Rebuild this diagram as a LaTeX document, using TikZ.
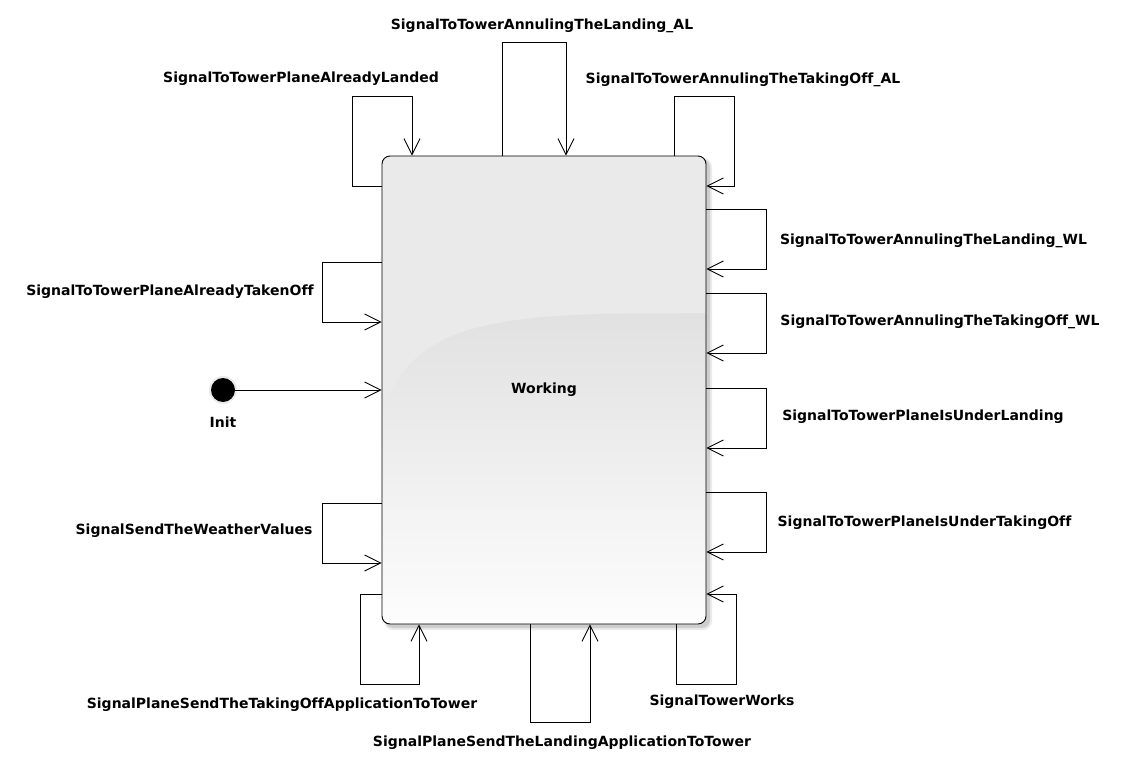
\documentclass[tikz,border=0pt]{standalone}
\usepackage{fontspec}
\setmainfont[Ligatures=NoCommon]{DejaVu Sans}
\usetikzlibrary{arrows.meta,shadows}
\definecolor{boxtop}{HTML}{EAEAEA}
\definecolor{boxmid}{HTML}{E1E1E1}
\definecolor{boxbot}{HTML}{FDFDFD}
\tikzset{
  x=1pt,y=-1pt,
  tr/.style={draw=black,line width=0.9pt,-{Straight Barb[length=16pt,width=16pt,line width=0.9pt]}},
  lbl/.style={font=\bfseries\fontsize{14}{16}\selectfont,inner sep=0pt,text=black,yshift=-1.5pt},
  statebox/.style={draw=black,line width=0.9pt,rounded corners=8pt,minimum width=324pt,minimum height=468pt,inner sep=0pt,font=\bfseries\fontsize{14}{16}\selectfont},
}
\begin{document}
\begin{tikzpicture}
\useasboundingbox (0,0) rectangle (1127,770);
% shadow and fill of the state
\fill[black,opacity=0.12,rounded corners=8pt] (385,159) rectangle (710,628);
\fill[black,opacity=0.08,rounded corners=9pt] (384,158) rectangle (712,630);
\begin{scope}
\clip[rounded corners=8pt] (382,156) rectangle (706,624);
\fill[boxtop] (382,156) rectangle (706,624);
\shade[top color=boxmid,bottom color=boxbot] (382,410) .. controls (410,340) and (460,318) .. (600,314) -- (706,313) -- (706,624) -- (382,624) -- cycle;
\end{scope}
\node[statebox] (w) at (544,390) {Working};
% initial state
\fill[black!20,opacity=0.4] (223,390) circle (14);
\node[circle,fill=black,minimum size=24pt,inner sep=0pt] (init) at (223,390) {};
\node[lbl] (initl) at (223,421) {Init};
\draw[tr] (init) -- (w.west |- init);
% top loops
\draw[tr] (w.west |- 0,186) -- (352,186) |- (412,96) -- (w.north -| 412,0);
\draw[tr] (w.north -| 502,0) -- (502,42) -| (w.north -| 566,0);
\draw[tr] (w.north -| 674,0) -- (674,96) -| (734,186) -- (w.east |- 0,186);
% right loops
\draw[tr] (w.east |- 0,209) -| (766,269) -- (w.east |- 0,269);
\draw[tr] (w.east |- 0,293) -| (766,353) -- (w.east |- 0,353);
\draw[tr] (w.east |- 0,388) -| (766,448) -- (w.east |- 0,448);
\draw[tr] (w.east |- 0,492) -| (766,552) -- (w.east |- 0,552);
% bottom loops
\draw[tr] (w.south -| 676,0) -- (676,684) -| (736,594) -- (w.east |- 0,594);
\draw[tr] (w.south -| 530,0) -- (530,722) -| (w.south -| 590,0);
\draw[tr] (w.west |- 0,594) -- (360,594) |- (419,684) -- (w.south -| 419,0);
% left loops
\draw[tr] (w.west |- 0,503) -- (322,503) |- (w.west |- 0,563);
\draw[tr] (w.west |- 0,262) -- (322,262) |- (w.west |- 0,322);
% labels
\node[lbl] (l1) at (301,77) {SignalToTowerPlaneAlreadyLanded};
\node[lbl] (l2) at (542,24) {SignalToTowerAnnulingTheLanding\_AL};
\node[lbl] (l3) at (743,78) {SignalToTowerAnnulingTheTakingOff\_AL};
\node[lbl] (l4) at (933.5,239) {SignalToTowerAnnulingTheLanding\_WL};
\node[lbl] (l5) at (940,320) {SignalToTowerAnnulingTheTakingOff\_WL};
\node[lbl] (l6) at (923,415) {SignalToTowerPlaneIsUnderLanding};
\node[lbl] (l7) at (924.5,521) {SignalToTowerPlaneIsUnderTakingOff};
\node[lbl] (l8) at (722,700) {SignalTowerWorks};
\node[lbl] (l9) at (562,741) {SignalPlaneSendTheLandingApplicationToTower};
\node[lbl] (l10) at (282,703) {SignalPlaneSendTheTakingOffApplicationToTower};
\node[lbl] (l11) at (194,529) {SignalSendTheWeatherValues};
\node[lbl] (l12) at (170,290) {SignalToTowerPlaneAlreadyTakenOff};
\end{tikzpicture}
\end{document}
